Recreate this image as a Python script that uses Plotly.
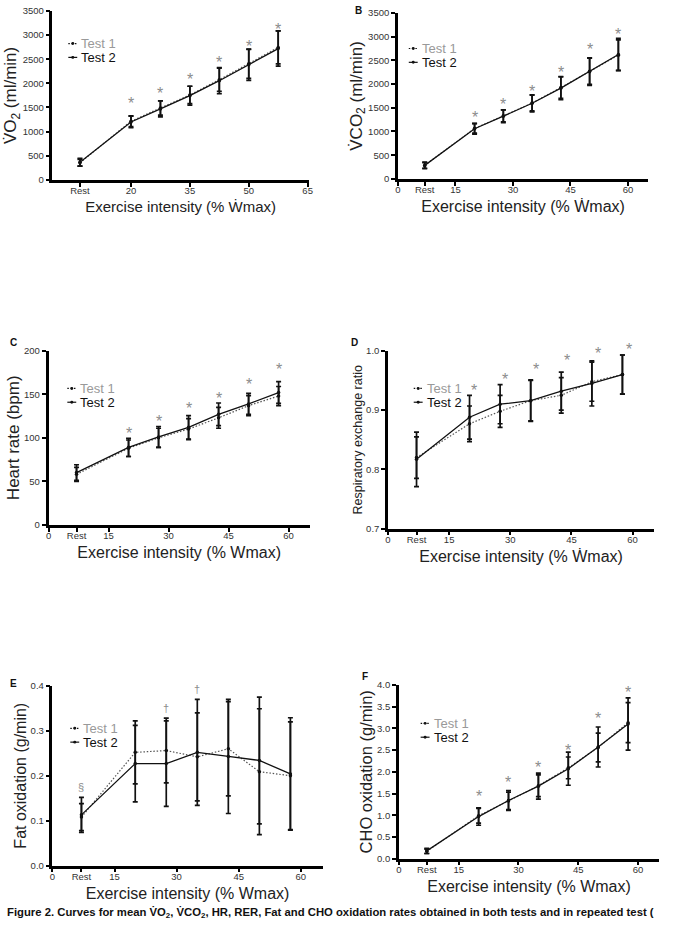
import plotly.graph_objects as go

W, H = 679, 925
FONT = "Liberation Sans, Arial, Helvetica, sans-serif"

# x positions of the stages (Rest plotted at ~7 % on the axis)
intensity = [7, 20, 27.5, 35, 42.5, 50, 57.5]

# A: VO2 (ml/min)
vo2_t1 = [355, 1215, 1490, 1760, 2075, 2405, 2745]
vo2_t1_sd = [70, 110, 150, 180, 240, 300, 340]
vo2_t2 = [365, 1200, 1470, 1745, 2055, 2385, 2720]
vo2_t2_sd = [80, 120, 165, 195, 270, 325, 365]
vo2_sig = [None, 1640, 1860, 2140, 2500, 2820, 3180]

# B: VCO2 (ml/min)
vco2_t1 = [285, 1065, 1330, 1600, 1925, 2270, 2610]
vco2_t1_sd = [60, 100, 125, 165, 225, 275, 320]
vco2_t2 = [285, 1058, 1322, 1595, 1914, 2262, 2623]
vco2_t2_sd = [70, 115, 135, 180, 245, 290, 340]
vco2_sig = [None, 1360, 1640, 1900, 2300, 2790, 3100]

# C: Heart rate (bpm)
hr_t1 = [58, 88, 100, 110, 123, 137, 148]
hr_t1_sd = [8, 9.5, 11, 12, 12, 11.5, 11]
hr_t2 = [60, 89, 101, 112, 127, 139, 152]
hr_t2_sd = [9, 10.5, 12, 13.5, 13, 12, 12.5]
hr_sig = [None, 108, 122, 137, 149, 165, 182]

# D: Respiratory exchange ratio
rer_t1 = [0.820, 0.877, 0.898, 0.916, 0.925, 0.948, 0.960]
rer_t1_sd = [0.035, 0.030, 0.027, 0.034, 0.030, 0.033, 0.033]
rer_t2 = [0.817, 0.888, 0.910, 0.916, 0.932, 0.945, 0.960]
rer_t2_sd = [0.046, 0.037, 0.033, 0.035, 0.032, 0.038, 0.033]
rer_sig_x = [None, 21, 28.7, 36.3, 44, 51.6, 59.2]
rer_sig = [None, 0.939, 0.957, 0.974, 0.988, 1.000, 1.008]

# E: Fat oxidation (g/min)
fat_t1 = [0.108, 0.252, 0.256, 0.242, 0.260, 0.209, 0.200]
fat_t1_sd = [0.030, 0.070, 0.072, 0.098, 0.105, 0.140, 0.120]
fat_t2 = [0.113, 0.227, 0.227, 0.252, 0.243, 0.234, 0.204]
fat_t2_sd = [0.039, 0.085, 0.095, 0.118, 0.127, 0.141, 0.125]
fat_sig = [0.176, None, 0.350, 0.393, None, None, None]
fat_sig_txt = ["§", "", "†", "†", "", "", ""]

# F: CHO oxidation (g/min)
cho_t1 = [0.17, 0.99, 1.33, 1.68, 2.09, 2.56, 3.13]
cho_t1_sd = [0.05, 0.17, 0.20, 0.25, 0.25, 0.33, 0.46]
cho_t2 = [0.18, 0.97, 1.34, 1.67, 2.07, 2.57, 3.10]
cho_t2_sd = [0.06, 0.20, 0.23, 0.30, 0.38, 0.46, 0.60]
cho_sig = [None, 1.49, 1.83, 2.17, 2.57, 3.30, 3.89]

x_ticks_a = [7, 20, 35, 50, 65]
x_ticktext_a = ["Rest", "20", "35", "50", "65"]
x_ticks = [0, 7, 15, 30, 45, 60]
x_ticktext = ["0", "Rest", "15", "30", "45", "60"]

DOTS = "1.5px,1.8px"


def px_x(a, b):
    return [a / W, b / W]


def px_y(top, bottom):
    return [1 - bottom / H, 1 - top / H]


panels = [
    dict(n=1, xd=(50, 309), yd=(5, 176), t1=vo2_t1, s1=vo2_t1_sd, t2=vo2_t2, s2=vo2_t2_sd,
         sx=intensity, sy=vo2_sig, st=["*"] * 7, yr=[0, 3500], dt=500, fmt="d",
         yt="V\u0307O<sub>2</sub> (ml/min)", ytf=17,
         xt="Exercise intensity (% W\u0307max)", xtf=15, xv=x_ticks_a, xx=x_ticktext_a,
         leg=(66, 38)),
    dict(n=2, xd=(399, 652), yd=(7, 175), t1=vco2_t1, s1=vco2_t1_sd, t2=vco2_t2, s2=vco2_t2_sd,
         sx=intensity, sy=vco2_sig, st=["*"] * 7, yr=[0, 3500], dt=500, fmt="d",
         yt="V\u0307CO<sub>2</sub> (ml/min)", ytf=17,
         xt="Exercise intensity (% W\u0307max)", xtf=16, xv=x_ticks, xx=x_ticktext,
         leg=(410, 43)),
    dict(n=3, xd=(46, 310), yd=(349, 525), t1=hr_t1, s1=hr_t1_sd, t2=hr_t2, s2=hr_t2_sd,
         sx=intensity, sy=hr_sig, st=["*"] * 7, yr=[0, 200], dt=50, fmt="d",
         yt="Heart rate (bpm)", ytf=17,
         xt="Exercise intensity (% Wmax)", xtf=16, xv=x_ticks, xx=x_ticktext,
         leg=(65, 387)),
    dict(n=4, xd=(389, 658), yd=(349, 529), t1=rer_t1, s1=rer_t1_sd, t2=rer_t2, s2=rer_t2_sd,
         sx=rer_sig_x, sy=rer_sig, st=["*"] * 7, yr=[0.7, 1.0], dt=0.1, fmt=".1f",
         yt="Respiratory exchange ratio", ytf=12.5,
         xt="Exercise intensity (% W\u0307max)", xtf=16, xv=x_ticks, xx=x_ticktext,
         leg=(415, 387)),
    dict(n=5, xd=(50, 323), yd=(688, 870), t1=fat_t1, s1=fat_t1_sd, t2=fat_t2, s2=fat_t2_sd,
         sx=intensity, sy=fat_sig, st=fat_sig_txt, yr=[0, 0.4], dt=0.1, fmt=".1f",
         yt="Fat oxidation (g/min)", ytf=16,
         xt="Exercise intensity (% Wmax)", xtf=16, xv=x_ticks, xx=x_ticktext,
         leg=(68, 731)),
    dict(n=6, xd=(400, 663), yd=(687, 863), t1=cho_t1, s1=cho_t1_sd, t2=cho_t2, s2=cho_t2_sd,
         sx=intensity, sy=cho_sig, st=["*"] * 7, yr=[0, 4.0], dt=0.5, fmt=".1f",
         yt="CHO oxidation (g/min)", ytf=16.5,
         xt="Exercise intensity (% Wmax)", xtf=16, xv=x_ticks, xx=x_ticktext,
         leg=(422, 726)),
]


def build(label_shift):
    fig = go.Figure()
    layout = dict(
        width=W, height=H, margin=dict(l=0, r=0, t=0, b=0),
        paper_bgcolor="white", plot_bgcolor="white", showlegend=False,
        font=dict(family=FONT, color="#222"),
    )
    annotations = []
    shapes = []

    for p in panels:
        n = p["n"]
        xa = "x" if n == 1 else f"x{n}"
        ya = "y" if n == 1 else f"y{n}"
        xkey = "xaxis" if n == 1 else f"xaxis{n}"
        ykey = "yaxis" if n == 1 else f"yaxis{n}"

        fig.add_trace(go.Scatter(
            x=intensity, y=p["t1"], xaxis=xa, yaxis=ya, mode="lines+markers",
            line=dict(color="#555", width=1.2, dash=DOTS),
            marker=dict(size=3.5, color="#111"),
            error_y=dict(type="data", array=p["s1"], visible=True, color="#111", thickness=1.7, width=2.5),
            cliponaxis=False, name="Test 1"))
        fig.add_trace(go.Scatter(
            x=intensity, y=p["t2"], xaxis=xa, yaxis=ya, mode="lines+markers",
            line=dict(color="#111", width=1.3),
            marker=dict(size=3.5, color="#111"),
            error_y=dict(type="data", array=p["s2"], visible=True, color="#111", thickness=1.7, width=2.5),
            cliponaxis=False, name="Test 2"))

        # significance markers; values above the axis top are anchored at the top
        # and lifted by the matching number of pixels
        y0r, y1r = p["yr"]
        ppu = (p["yd"][1] - p["yd"][0]) / (y1r - y0r)
        for sx, sy, st in zip(p["sx"], p["sy"], p["st"]):
            if sx is None or sy is None or not st:
                continue
            star = st == "*"
            extra = max(0.0, sy - y1r)
            annotations.append(dict(
                x=sx, y=sy - extra, xref=xa, yref=ya, text=st, showarrow=False,
                xanchor="center", yanchor="middle",
                yshift=(-3 if star else 0) + extra * ppu,
                font=dict(size=16 if star else 11, color="#8c8c8c", family=FONT)))

        layout[xkey] = dict(
            domain=px_x(*p["xd"]), anchor=ya, range=[0, 65.3],
            tickmode="array", tickvals=p["xv"], ticktext=p["xx"],
            showline=True, linecolor="black", linewidth=2.5,
            ticks="outside", ticklen=4, tickwidth=1.5, tickcolor="black",
            tickfont=dict(size=9.5, color="#333", family=FONT),
            showgrid=False, zeroline=False,
            title=dict(text=p["xt"], font=dict(size=p["xtf"], color="#222", family=FONT),
                       standoff=3 - label_shift),
        )
        layout[ykey] = dict(
            domain=px_y(*p["yd"]), anchor=xa, range=p["yr"],
            dtick=p["dt"], tick0=p["yr"][0], tickformat=p["fmt"],
            showline=True, linecolor="black", linewidth=2.5,
            ticks="outside", ticklen=4, tickwidth=1.5, tickcolor="black",
            tickfont=dict(size=9.5, color="#333", family=FONT),
            showgrid=False, zeroline=False,
            title=dict(text=p["yt"], font=dict(size=p["ytf"], color="#222", family=FONT), standoff=1),
        )
        if label_shift:
            layout[xkey]["ticklabelstandoff"] = label_shift

        # legend (text + small key symbol) in the upper-left of each panel
        lx, ly = p["leg"]
        for i, (lab, col, dash) in enumerate([("Test 1", "#999999", DOTS), ("Test 2", "#111111", "solid")]):
            yy = ly + i * 14
            annotations.append(dict(
                x=(lx + 11) / W, y=1 - yy / H, xref="paper", yref="paper",
                text=lab, showarrow=False, xanchor="left", yanchor="middle",
                font=dict(size=13, color=col, family=FONT)))
            shapes.append(dict(type="line", xref="paper", yref="paper",
                               x0=lx / W, x1=(lx + 9) / W, y0=1 - yy / H, y1=1 - yy / H,
                               line=dict(color="#111", width=1.2, dash=dash)))
            shapes.append(dict(type="circle", xref="paper", yref="paper",
                               x0=(lx + 3) / W, x1=(lx + 6) / W,
                               y0=1 - (yy + 1.5) / H, y1=1 - (yy - 1.5) / H,
                               fillcolor="#111", line=dict(width=0)))

    # panel letters
    for lab, x, y in [("B", 359, 5), ("C", 11, 341), ("D", 355, 341), ("E", 11, 686), ("F", 366, 679)]:
        annotations.append(dict(x=x / W, y=1 - y / H, xref="paper", yref="paper", text=f"<b>{lab}</b>",
                                showarrow=False, xanchor="center", yanchor="middle",
                                font=dict(size=10, color="#111", family=FONT)))

    # figure caption
    annotations.append(dict(
        x=2 / W, y=1 - 918 / H, xref="paper", yref="paper", xanchor="left", yanchor="middle",
        text="<b>Figure 2. Curves for mean V\u0307O<sub>2</sub>, V\u0307CO<sub>2</sub>, HR, RER, Fat and CHO oxidation rates obtained in both tests and in repeated test (</b>",
        showarrow=False, font=dict(size=11.3, color="#111", family=FONT)))

    layout["annotations"] = annotations
    layout["shapes"] = shapes
    fig.update_layout(**layout)
    return fig


try:
    fig = build(-4)
except Exception:
    fig = build(0)
fig.write_html("out.html")
